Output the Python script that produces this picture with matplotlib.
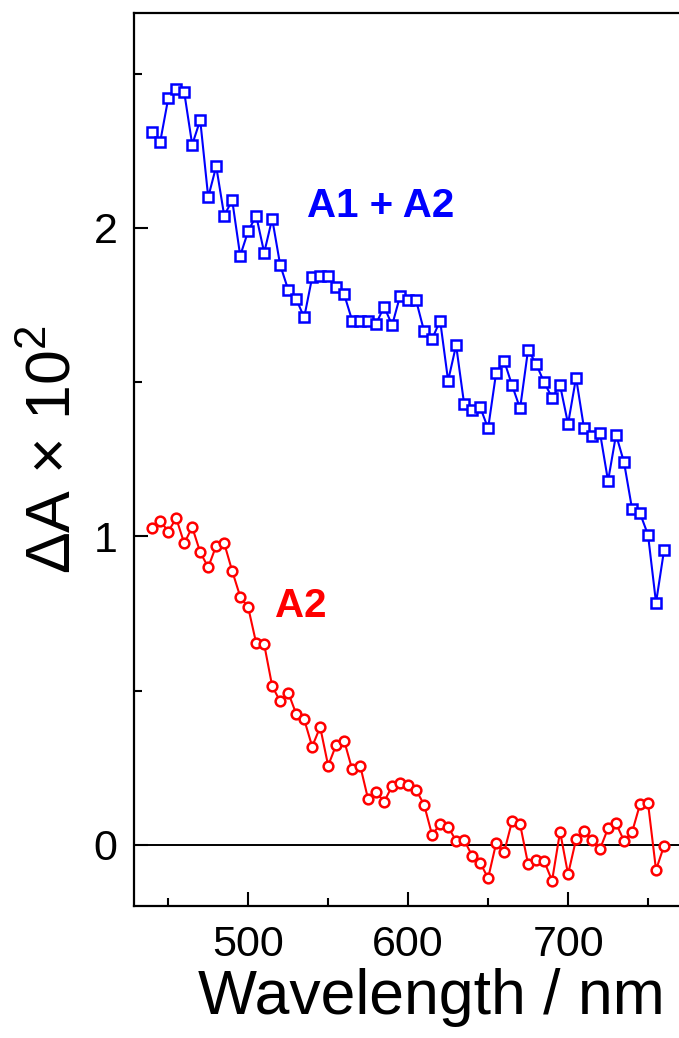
import numpy as np
import matplotlib
matplotlib.use("Agg")
import matplotlib.pyplot as plt
from matplotlib.ticker import MultipleLocator, FixedLocator

plt.rcParams['font.family'] = ['Liberation Sans', 'DejaVu Sans']
plt.rcParams['mathtext.fontset'] = 'custom'
plt.rcParams['mathtext.rm'] = 'Liberation Sans'
plt.rcParams['mathtext.it'] = 'Liberation Sans'
plt.rcParams['mathtext.default'] = 'regular'

wavelength = list(range(440, 761, 5))

a1_plus_a2 = [2.31, 2.28, 2.42, 2.45, 2.44, 2.27, 2.35, 2.10, 2.20, 2.04,
              2.09, 1.91, 1.99, 2.04, 1.92, 2.03, 1.88, 1.80, 1.77, 1.71,
              1.84, 1.845, 1.845, 1.81, 1.785, 1.70, 1.70, 1.70, 1.69, 1.745,
              1.685, 1.78, 1.765, 1.765, 1.665, 1.64, 1.70, 1.505, 1.62, 1.43,
              1.41, 1.42, 1.35, 1.53, 1.57, 1.49, 1.415, 1.605, 1.56, 1.50,
              1.45, 1.49, 1.365, 1.515, 1.35, 1.325, 1.335, 1.18, 1.33, 1.24,
              1.09, 1.075, 1.005, 0.785, 0.955]

a2 = [1.029, 1.051, 1.016, 1.059, 0.978, 1.030, 0.949, 0.900, 0.970, 0.978,
      0.888, 0.805, 0.770, 0.654, 0.650, 0.515, 0.465, 0.494, 0.425, 0.407,
      0.319, 0.382, 0.257, 0.324, 0.338, 0.245, 0.257, 0.148, 0.171, 0.140,
      0.191, 0.200, 0.195, 0.178, 0.130, 0.032, 0.068, 0.059, 0.013, 0.016,
      -0.035, -0.057, -0.108, 0.005, -0.024, 0.077, 0.067, -0.062, -0.049, -0.052,
      -0.116, 0.043, -0.095, 0.018, 0.045, 0.016, -0.013, 0.054, 0.070, 0.013,
      0.041, 0.132, 0.135, -0.081, -0.003]

x_major = [500, 600, 700]
x_minor = [450, 550, 650, 750]

W, H = 679, 1038
dpi = 100
fig = plt.figure(figsize=(W / dpi, H / dpi), dpi=dpi)

left_px, right_px, top_px, bottom_px = 134, 728, 13, 906
ax = fig.add_axes([left_px / W, 1 - bottom_px / H,
                   (right_px - left_px) / W, (bottom_px - top_px) / H])

ax.plot(wavelength, a1_plus_a2, color='#0000ff', lw=1.5, marker='s', ms=6.6,
        mfc='white', mec='#0000ff', mew=1.8, zorder=3)
ax.plot(wavelength, a2, color='#ff0000', lw=1.5, marker='o', ms=7.0,
        mfc='white', mec='#ff0000', mew=1.8, zorder=3)
ax.axhline(0, color='black', lw=1.4, zorder=1)

ax.set_xlim(428.6, 800)
ax.set_ylim(-0.198, 2.697)

ax.xaxis.set_major_locator(FixedLocator(x_major))
ax.xaxis.set_minor_locator(FixedLocator(x_minor))
ax.yaxis.set_major_locator(MultipleLocator(1))
ax.yaxis.set_minor_locator(MultipleLocator(0.5))

ax.tick_params(which='both', direction='in', width=1.5, labelsize=31, colors='black')
ax.tick_params(which='major', length=10)
ax.tick_params(which='minor', length=6)
ax.tick_params(axis='y', which='major', pad=12)
ax.tick_params(axis='x', which='major', pad=14)
ax.tick_params(top=False, right=False)

for s in ['left', 'bottom', 'top']:
    ax.spines[s].set_linewidth(1.6)
ax.spines['right'].set_visible(False)

ax.set_xlabel('Wavelength / nm', fontsize=45, labelpad=2)

fig.text(54 / W, 1 - 450 / H, 'ΔA × 10$^{2}$', rotation=90, fontsize=45,
         ha='center', va='center')

ax.text(536.5, 2.036, 'A1 + A2', color='#0000ff', fontsize=29,
        fontweight='bold', ha='left', va='baseline')
ax.text(516.7, 0.739, 'A2', color='#ff0000', fontsize=29,
        fontweight='bold', ha='left', va='baseline')

fig.savefig('out.png', dpi=dpi)
